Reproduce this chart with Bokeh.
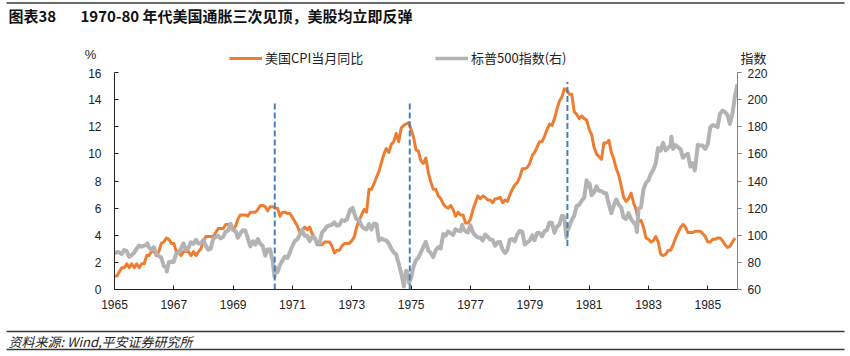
import pandas as pd
from bokeh.plotting import figure
from bokeh.models import (Range1d, LinearAxis, FixedTicker, DatetimeTickFormatter,
                          Legend, LegendItem, ColumnDataSource)
from bokeh.embed import file_html
from bokeh.resources import INLINE
from bokeh.core.properties import value

# ---------------- data ----------------
title_tag = "图表38"
title_text = "1970-80 年代美国通胀三次见顶，美股均立即反弹"
source_text = "资料来源: Wind,平安证券研究所"
cpi_name = "美国CPI当月同比"
sp_name = "标普500指数(右)"
left_unit = "%"
right_unit = "指数"

cpi_start = "1965-01-01"
cpi_yoy = [
    1.0, 1.0, 1.3, 1.6, 1.6, 1.9, 1.6, 1.9, 1.6, 1.9, 1.6, 1.9,   # 1965
    1.9, 2.5, 2.5, 2.8, 2.8, 2.5, 2.8, 3.4, 3.5, 3.8, 3.7, 3.4,   # 1966
    3.4, 2.8, 2.8, 2.5, 2.8, 2.8, 2.8, 2.5, 2.8, 2.5, 2.8, 3.0,   # 1967
    3.6, 3.9, 3.9, 3.9, 3.9, 4.2, 4.5, 4.5, 4.5, 4.8, 4.8, 4.7,   # 1968
    4.4, 4.7, 5.2, 5.5, 5.5, 5.5, 5.4, 5.7, 5.7, 5.7, 5.9, 6.2,   # 1969
    6.2, 6.1, 5.8, 6.1, 6.1, 6.0, 6.0, 5.4, 5.7, 5.7, 5.6, 5.6,   # 1970
    5.3, 5.0, 4.7, 4.2, 4.4, 4.6, 4.4, 4.6, 4.1, 3.8, 3.3, 3.3,   # 1971
    3.3, 3.5, 3.5, 3.5, 3.2, 2.7, 2.9, 2.9, 3.2, 3.4, 3.4, 3.4,   # 1972
    3.6, 3.9, 4.6, 5.1, 5.5, 5.9, 5.7, 7.4, 7.4, 7.8, 8.3, 8.7,   # 1973
    9.4, 10.0, 10.4, 10.1, 10.7, 10.9, 11.5, 10.9, 11.9, 12.1, 12.2, 12.3,  # 1974
    11.8, 11.2, 10.3, 10.2, 9.5, 9.3, 9.7, 8.6, 7.9, 7.4, 7.4, 6.9,  # 1975
    6.7, 6.3, 6.1, 6.0, 6.2, 5.9, 5.4, 5.7, 5.5, 5.5, 4.9, 4.9,   # 1976
    5.2, 5.9, 6.4, 6.9, 6.7, 6.9, 6.8, 6.6, 6.6, 6.4, 6.7, 6.7,   # 1977
    6.8, 6.4, 6.6, 6.5, 7.0, 7.4, 7.7, 7.9, 8.3, 8.9, 8.9, 9.0,   # 1978
    9.3, 9.9, 10.1, 10.5, 10.9, 10.9, 11.3, 11.8, 12.2, 12.1, 12.6, 13.3,  # 1979
    13.9, 14.2, 14.8, 14.7, 14.4, 14.4, 13.1, 12.9, 12.6, 12.8, 12.6, 12.5,  # 1980
    11.8, 11.4, 10.5, 10.0, 9.8, 9.6, 10.8, 10.8, 11.0, 10.1, 9.6, 8.9,  # 1981
    8.4, 7.6, 6.8, 6.5, 6.7, 7.1, 6.4, 5.9, 5.0, 5.1, 4.6, 3.8,   # 1982
    3.7, 3.5, 3.6, 3.9, 3.5, 2.6, 2.5, 2.6, 2.9, 2.9, 3.3, 3.8,   # 1983
    4.2, 4.6, 4.8, 4.6, 4.2, 4.2, 4.2, 4.3, 4.3, 4.3, 4.1, 3.9,   # 1984
    3.5, 3.5, 3.7, 3.7, 3.8, 3.8, 3.6, 3.3, 3.1, 3.2, 3.5, 3.8,   # 1985
]

sp500_start = "1965-01-31"   # month-end closes
sp500_close = [
    87.6, 87.4, 86.2, 89.1, 88.4, 84.1, 85.3, 87.2, 90.0, 92.4, 91.6, 92.4,   # 1965
    92.9, 91.2, 89.2, 91.1, 86.1, 84.7, 83.6, 77.1, 76.6, 80.2, 80.5, 80.3,   # 1966
    86.6, 86.8, 90.2, 94.0, 89.1, 90.6, 94.8, 93.6, 96.7, 93.9, 94.0, 96.5,   # 1967
    92.2, 89.4, 90.2, 97.6, 98.7, 99.6, 97.7, 98.9, 102.7, 103.4, 108.4, 103.9,  # 1968
    103.0, 98.1, 101.5, 103.7, 103.5, 97.7, 91.8, 95.5, 93.1, 97.2, 93.8, 92.1,  # 1969
    85.0, 89.5, 89.6, 81.5, 76.6, 72.7, 78.1, 81.5, 84.2, 83.3, 87.2, 92.2,   # 1970
    95.9, 96.8, 100.3, 104.0, 99.6, 99.7, 95.6, 99.0, 98.3, 94.2, 94.0, 102.1,  # 1971
    103.9, 106.6, 107.2, 107.7, 109.5, 107.1, 107.4, 111.1, 110.6, 111.6, 116.7, 118.1,  # 1972
    116.0, 111.7, 111.5, 107.0, 105.0, 104.3, 108.2, 104.3, 108.4, 108.3, 96.0, 97.6,  # 1973
    96.6, 96.2, 94.0, 90.3, 87.3, 86.0, 79.3, 72.2, 63.5, 73.9, 70.0, 68.6,   # 1974
    77.0, 81.6, 83.4, 87.3, 91.2, 95.2, 88.8, 86.9, 83.9, 89.0, 91.2, 90.2,   # 1975
    100.9, 99.7, 102.8, 101.6, 100.2, 104.3, 103.4, 102.9, 105.2, 102.9, 102.1, 107.5,  # 1976
    102.0, 99.8, 98.4, 98.4, 96.1, 100.5, 98.9, 96.8, 96.5, 92.3, 94.8, 95.1,  # 1977
    89.3, 87.0, 89.2, 96.8, 97.2, 95.5, 100.7, 103.3, 102.5, 93.2, 94.7, 96.1,  # 1978
    99.9, 96.3, 101.6, 101.8, 99.1, 102.9, 103.8, 109.3, 109.3, 101.8, 106.2, 107.9,  # 1979
    114.2, 113.7, 102.1, 106.3, 111.2, 114.2, 121.7, 122.4, 125.5, 127.5, 140.5, 135.8,  # 1980
    129.6, 131.3, 136.0, 132.8, 132.6, 131.2, 130.9, 122.8, 116.2, 121.9, 126.4, 122.6,  # 1981
    120.4, 113.1, 112.0, 116.4, 111.9, 109.6, 107.1, 119.5, 120.4, 133.7, 138.5, 140.6,  # 1982
    145.3, 148.1, 153.0, 164.4, 162.4, 168.1, 162.6, 164.4, 166.1, 163.6, 166.4, 164.9,  # 1983
    163.4, 157.1, 159.2, 160.1, 150.6, 153.2, 150.7, 166.7, 166.1, 166.1, 163.6, 167.2,  # 1984
    179.6, 181.2, 180.7, 179.8, 189.6, 191.9, 190.9, 188.6, 182.1, 189.8, 202.2, 211.3,  # 1985
]
# intra-month turning points visible in the picture
sp500_extra_dates = ["1965-01-04", "1966-02-09", "1966-10-07", "1970-05-26", "1972-12-11",
                     "1973-01-11", "1974-10-03", "1974-12-06", "1976-09-21", "1978-03-06",
                     "1980-03-27", "1981-01-06", "1982-08-12", "1983-10-10", "1984-07-24"]
sp500_extra_close = [86.5, 94.1, 73.2, 69.3, 119.1,
                     120.2, 62.3, 65.0, 107.8, 86.9,
                     98.2, 138.1, 102.4, 172.7, 147.8]

event_dates = ["1970-05-28", "1974-12-15", "1980-04-08"]
event_top = [13.8, 13.8, 15.3]
event_bottom = [0.0, 0.0, 3.2]

year_ticks = [1965, 1967, 1969, 1971, 1973, 1975, 1977, 1979, 1981, 1983, 1985]
left_ticks = [0, 2, 4, 6, 8, 10, 12, 14, 16]
right_ticks = [60, 80, 100, 120, 140, 160, 180, 200, 220]

# ---------------- styles ----------------
CJK = "Noto Sans CJK SC"
LAT = "Liberation Sans"
ORANGE = "#ED7D31"
GRAY = "#B3B3B3"
BLUE = "#4A7EBB"
RULE = "#3A3A3A"
INK = "#222222"
W = 850


def strip(height):
    s = figure(width=W, height=height, x_range=Range1d(0, W), y_range=Range1d(height, 0),
               x_axis_location=None, y_axis_location=None, toolbar_location=None,
               output_backend="svg", min_border=0, outline_line_color=None)
    s.grid.visible = False
    return s


# ---------------- sources ----------------
cpi_src = ColumnDataSource(dict(
    x=pd.date_range(cpi_start, periods=len(cpi_yoy), freq="MS"),
    y=cpi_yoy))

sp_df = pd.DataFrame({
    "x": list(pd.date_range(sp500_start, periods=len(sp500_close), freq="ME")) +
         list(pd.to_datetime(sp500_extra_dates)),
    "y": sp500_close + sp500_extra_close,
}).sort_values("x")
sp_src = ColumnDataSource(sp_df)

ev_src = ColumnDataSource(dict(x=pd.to_datetime(event_dates), y0=event_bottom, y1=event_top))

# ---------------- title strip (page y 0-32) ----------------
t = strip(32)
t.segment(x0=[6], y0=[2.5], x1=[844], y1=[2.5], line_color=RULE, line_width=1.5)
t.text(x=[8], y=[15], text=[title_tag], text_font=value(CJK), text_font_style="bold",
       text_font_size="15px", text_baseline="middle", text_color="#111111")
t.text(x=[80], y=[15], text=[title_text], text_font=value(CJK), text_font_style="bold",
       text_font_size="15px", text_baseline="middle", text_color="#111111")

# ---------------- header strip: units + legend (page y 32-68) ----------------
h = strip(36)
h.text(x=[90], y=[22], text=[left_unit], text_font=value(LAT), text_font_size="13px",
       text_align="center", text_baseline="middle", text_color=INK)
h.text(x=[753], y=[25], text=[right_unit], text_font=value(CJK), text_font_size="13px",
       text_align="center", text_baseline="middle", text_color=INK)
# legend key renderers: one off-canvas point each, so only their legend sample shows
key_cpi = h.line(x=[-50, -40], y=[-50, -50], line_color=ORANGE, line_width=3)
key_sp = h.line(x=[-50, -40], y=[-50, -50], line_color=GRAY, line_width=3.5)
for name, rend, vx in ((cpi_name, key_cpi, 229), (sp_name, key_sp, 435)):
    lg = Legend(items=[LegendItem(label=name, renderers=[rend])], location=(vx, 1),
                orientation="horizontal", border_line_color=None, background_fill_alpha=0,
                padding=0, margin=0, glyph_width=33, glyph_height=14, label_height=14,
                label_standoff=3, label_text_font=CJK, label_text_font_size="13px",
                label_text_color=INK, label_text_baseline="middle")
    h.add_layout(lg)

# ---------------- main chart (page y 68-326, frame 72-289) ----------------
p = figure(width=W, height=258, x_axis_type="datetime",
           x_range=Range1d(pd.Timestamp("1965-01-01"), pd.Timestamp("1986-01-01")),
           y_range=Range1d(0, 16), toolbar_location=None, output_backend="svg",
           min_border_left=114, min_border_right=113, min_border_top=4, min_border_bottom=37,
           outline_line_color=None)
p.grid.visible = False
p.extra_y_ranges = {"right": Range1d(60, 220)}

p.line("x", "y", source=cpi_src, line_color=ORANGE, line_width=3, line_join="round")
p.line("x", "y", source=sp_src, y_range_name="right", line_color=GRAY, line_width=4,
       line_join="round")
p.segment(x0="x", y0="y0", x1="x", y1="y1", source=ev_src, line_color=BLUE,
          line_width=2, line_dash="6 3")

xa = p.xaxis[0]
xa.ticker = FixedTicker(ticks=[pd.Timestamp(f"{y}-01-01").value / 1e6 for y in year_ticks])
xa.formatter = DatetimeTickFormatter(years="%Y", months="%Y", days="%Y", hours="%Y")
ya = p.yaxis[0]
ya.ticker = FixedTicker(ticks=left_ticks)
for ax in (xa, ya):
    ax.axis_line_color = INK
    ax.major_tick_line_color = INK
    ax.major_tick_in = 4
    ax.major_tick_out = 0
    ax.minor_tick_line_color = None
    ax.major_label_text_font = LAT
    ax.major_label_text_font_size = "12px"
    ax.major_label_text_color = INK
xa.major_label_standoff = 10
ya.major_label_standoff = 13

ra = LinearAxis(y_range_name="right", ticker=FixedTicker(ticks=right_ticks))
ra.axis_line_color = "#808080"
ra.major_tick_line_color = "#808080"
ra.major_tick_in = 0
ra.major_tick_out = 4
ra.minor_tick_line_color = None
ra.major_label_text_font = LAT
ra.major_label_text_font_size = "12px"
ra.major_label_text_color = INK
ra.major_label_standoff = 6
p.add_layout(ra, "right")

# ---------------- footer strip (page y 326-356) ----------------
f = strip(30)
f.segment(x0=[6, 6], y0=[5, 23], x1=[844, 844], y1=[5, 23], line_color=RULE, line_width=1.5)
f.text(x=[8], y=[14.5], text=[source_text], text_font=value(CJK), text_font_style="italic",
       text_font_size="13px", text_baseline="middle", text_color=INK)

open("out.html", "w").write(file_html([t, h, p, f], INLINE))
